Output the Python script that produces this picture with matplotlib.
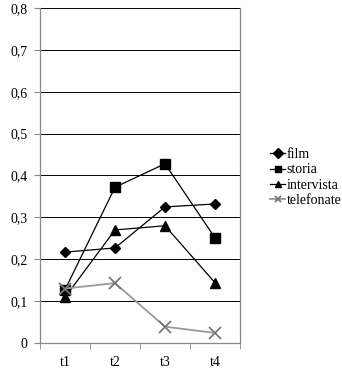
import numpy as np
import matplotlib
matplotlib.use("Agg")
import matplotlib.pyplot as plt
from matplotlib.ticker import FixedLocator

plt.rcParams["font.family"] = ["Liberation Serif", "DejaVu Serif"]

categories = ["t1", "t2", "t3", "t4"]
film = [0.217, 0.227, 0.325, 0.332]
storia = [0.127, 0.372, 0.428, 0.251]
intervista = [0.109, 0.270, 0.280, 0.144]
telefonate = [0.130, 0.143, 0.039, 0.024]
y_ticks = [0, 0.1, 0.2, 0.3, 0.4, 0.5, 0.6, 0.7, 0.8]
y_labels = ["0", "0,1", "0,2", "0,3", "0,4", "0,5", "0,6", "0,7", "0,8"]

fig = plt.figure(figsize=(3.42, 3.69), dpi=100, facecolor="white")
ax = fig.add_axes([40 / 342, 26 / 369, 200 / 342, 335 / 369])

x = np.arange(len(categories))

ax.plot(x, film, color="black", lw=0.9, marker="D", ms=5.5, label="film")
ax.plot(x, storia, color="black", lw=0.9, marker="s", ms=6.5, label="storia")
ax.plot(x, intervista, color="black", lw=0.9, marker="^", ms=7, label="intervista")
ax.plot(x, telefonate, color="#999999", lw=1.3, marker="x", ms=8, mew=1.3,
        mec="#777777", label="telefonate")

ax.set_xlim(-0.5, len(categories) - 0.5)
ax.set_ylim(0, 0.8)
ax.set_xticks(x)
ax.set_xticklabels(categories, fontsize=10)
ax.xaxis.set_minor_locator(FixedLocator(np.arange(-0.5, len(categories), 1)))
ax.tick_params(axis="x", which="major", length=0, pad=9)
ax.tick_params(axis="x", which="minor", length=4, color="#888888")
ax.set_yticks(y_ticks)
ax.set_yticklabels(y_labels, fontsize=10)
ax.tick_params(axis="y", length=4, color="#888888", pad=5)

ax.grid(axis="y", color="black", lw=0.7)
ax.set_axisbelow(True)
for s in ["left", "bottom", "right"]:
    ax.spines[s].set_color("#888888")
    ax.spines[s].set_linewidth(0.9)
ax.spines["top"].set_visible(False)

leg = fig.legend(loc="upper left", bbox_to_anchor=(270 / 342, 1 - 148 / 369),
                 frameon=False, fontsize=10, handlelength=1.1, handletextpad=0.1,
                 labelspacing=0.17, borderpad=0, borderaxespad=0)
for h in leg.legend_handles:
    h.set_markersize(5)

fig.savefig("out.png", dpi=100, facecolor="white")
